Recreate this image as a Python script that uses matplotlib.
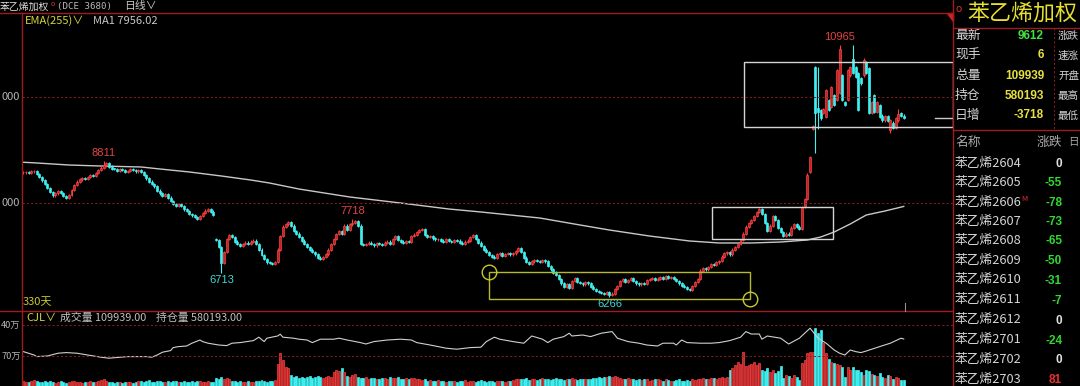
import matplotlib
matplotlib.use('Agg')
import matplotlib.pyplot as plt
from matplotlib.patches import Rectangle, Polygon
import numpy as np

W, H = 1080, 386
plt.rcParams['font.family'] = ['Noto Sans CJK SC', 'DejaVu Sans']

# ---------------- data ----------------
closes = [
    8590, 8600, 8585, 8610, 8620,
    8560, 8500, 8440, 8380, 8300, 8220, 8160,
    8200, 8240, 8210, 8150, 8120,
    8170, 8260, 8350, 8420, 8460,
    8480, 8470, 8500, 8540, 8530, 8580, 8640,
    8680, 8720, 8760, 8700, 8660,
    8650, 8620, 8660, 8640, 8600, 8620, 8650, 8630, 8610, 8640,
    8600, 8540, 8480, 8420, 8380, 8330, 8250, 8200,
    8150, 8180, 8120, 8060, 8000, 7960,
    8000, 7960, 7900, 7870, 7820, 7790, 7760,
    7730, 7780, 7830, 7880, 7910, 7860, 7800,
    7330, 7200, 6900, 7100, 7350, 7420,
    7380, 7300, 7250, 7220, 7260,
    7280, 7250, 7300, 7320,
    7250, 7150, 7050, 6980, 6910,
    6900, 6880, 6920,
    7150, 7400, 7580,
    7620, 7660, 7600, 7500,
    7450, 7380, 7320, 7260, 7200, 7150, 7100, 7060,
    7000, 6970, 7010,
    7060, 7150, 7250, 7350, 7440, 7500,
    7450, 7600, 7520, 7620, 7650, 7680,
    7600, 7250, 7240,
    7260, 7280, 7250, 7230, 7270, 7260, 7240, 7280, 7300, 7260,
    7350, 7400, 7330, 7300,
    7280, 7310, 7300,
    7400, 7430, 7480, 7520,
    7540, 7420, 7380, 7400, 7360, 7340, 7350,
    7320, 7300, 7340, 7310, 7290, 7330, 7320, 7280,
    7260, 7300, 7320, 7380, 7420,
    7350, 7280, 7220, 7150, 7100, 7050, 7020, 6990,
    7060, 7080, 7040, 7070, 7090, 7060, 7080, 7120, 7180,
    7100, 7000, 6920, 6880,
    6930, 6950, 6940, 6920, 6950, 6930,
    6850, 6780, 6720, 6680,
    6600, 6520, 6450, 6500, 6440,
    6560, 6620,
    6550, 6530, 6500, 6540, 6520,
    6460, 6420, 6380, 6360,
    6340, 6320, 6350, 6300, 6330,
    6420, 6470,
    6560, 6600, 6540, 6580, 6620, 6560,
    6520, 6500, 6530, 6510,
    6580, 6600, 6620, 6590, 6610, 6630, 6600,
    6650, 6620, 6640, 6600,
    6560, 6520, 6480, 6450, 6420, 6400,
    6470, 6540, 6600,
    6760, 6800, 6780, 6820,
    6880, 6860, 6910, 6940,
    7020, 7080, 7100, 7060,
    7150, 7200, 7260,
    7330, 7450, 7580, 7650,
    7700, 7780, 7850, 7900,
    7820, 7650, 7500, 7600,
    7780, 7700, 7550,
    7480, 7400, 7450, 7420,
    7560, 7620, 7580, 7540,
    7950, 8100, 8550,
    8880, 9450, 9699, 9720, 9600, 9780, 10129, 9760, 10185, 9850,
    10500, 10900, 9950, 9850, 10500, 10550, 10450, 10380, 9750, 10250,
    10688, 10450, 9700, 9900, 9720, 9900, 9620, 9560, 9640, 9550,
    9560, 9420, 9600, 9680, 9640, 9612,
]

# opens differing from the previous close (gaps / volatile days)
open_override = {
    72: 7340, 294: 8600, 295: 9400, 296: 10558, 297: 9800, 298: 9750,
    299: 9700, 300: 9630, 301: 9940, 302: 9820, 303: 10035, 304: 9950,
    305: 10073, 306: 10400, 307: 9900, 308: 9950, 309: 10400, 310: 10700,
    311: 10560, 312: 10450, 313: 10350, 314: 10400, 315: 10650, 316: 10540,
    317: 9700, 318: 10035, 319: 9720, 320: 9850, 321: 9650, 322: 9560,
    323: 9640, 324: 9380, 325: 9520, 326: 9420, 327: 9560, 328: 9700,
    329: 9650,
}
high_override = {30: 8811, 123: 7718, 305: 10965, 310: 10960, 297: 10558,
                 314: 10720, 327: 9780}
low_override = {74: 6713, 219: 6266, 296: 8953, 297: 9400, 324: 9330, 325: 9400}

volumes = [  # 万手
    9, 7, 8, 10, 11, 9, 8, 7, 9, 8,
    10, 7, 6, 8, 9, 7, 6, 8, 9, 10,
    8, 7, 6, 7, 8, 9, 7, 8, 10, 11,
    12, 9, 8, 7, 6, 7, 8, 6, 7, 8,
    7, 6, 8, 9, 10, 8, 9, 11, 8, 7,
    9, 10, 8, 7, 9, 8, 10, 9, 7, 8,
    9, 8, 7, 9, 8, 10, 9, 8, 7, 9, 8, 7,
    14, 12, 16, 13, 15, 12, 10,
    9, 8, 10, 8, 7, 9, 8, 7, 9, 10, 11, 9, 8, 10, 9, 11,
    40, 60, 48, 35, 32, 20,
    16, 18, 15, 17, 14, 16, 18, 15, 17, 19, 16, 15, 17, 18, 16,
    25, 30, 28, 33, 26,
    18, 16, 20, 22, 17, 15, 14, 16, 13, 15, 14, 12, 13, 15, 14, 13, 16,
    15, 14, 16, 13, 12, 14, 13, 15, 14, 12, 13, 11, 12, 10, 11, 9, 10, 11, 9, 10, 8, 9, 10,
    9, 8, 10, 9, 11, 8, 10, 9, 8, 10, 11, 9, 8, 9, 10, 8, 9, 10, 9, 8, 9, 10, 11, 12, 13,
    13, 12, 14, 11, 12, 13, 11, 12, 14, 13, 12, 11, 13, 14, 12, 13, 11, 12, 13, 14, 12, 11, 13, 12, 13,
    12, 13, 14, 15, 16, 15, 17, 16, 18, 17, 19, 16, 14, 13, 12, 14, 13, 12, 11,
    12, 11, 13, 12, 10, 11, 12, 13, 11, 10, 12, 11, 10, 9, 11, 12, 10, 9, 11, 10,
    12, 11, 13, 12, 14, 13, 12, 14, 15, 13, 14, 16, 15, 17,
    29, 33, 38, 44, 40, 62, 36, 38, 40, 44, 38, 42,
    30, 28, 33, 26, 30, 24, 28, 36, 15, 20, 18, 14, 20, 16, 11,
    42, 47, 60, 62, 62, 106, 97, 102, 78, 60,
    50, 44, 42, 40, 38, 35, 17, 35, 30, 34,
    30, 30, 25, 20, 30, 28, 22, 20, 18, 24,
    16, 14, 20, 18, 12, 16, 14, 11, 11,
]

oi_idx = [0, 4, 5, 9, 13, 16, 20, 24, 29, 32, 39, 46, 48, 50, 52, 55, 56, 58, 61, 63,
          66, 67, 69, 73, 76, 78, 81, 86, 88, 90, 91, 95, 96, 97, 101, 103, 106, 108, 111, 116,
          118, 121, 126, 128, 131, 136, 141, 145, 147, 152, 158, 162, 167, 171, 173, 176, 178, 183, 187, 190,
          194, 196, 198, 202, 204, 205, 209, 212, 216, 220, 222, 226, 230, 233, 237, 239, 243, 244, 246, 248,
          253, 257, 260, 264, 268, 270, 272, 275, 276, 278, 283, 286, 290, 294, 297, 300, 303, 305, 307, 309,
          311, 313, 315, 320, 324, 328, 329]
oi_val = [51.7, 50.0, 49.2, 49.5, 50.9, 51.2, 50.9, 50.0, 48.9, 48.4, 49.2, 49.2, 48.9, 50.0, 51.4, 52.2, 53.7, 54.2, 54.5, 55.9,
          57.5, 56.7, 55.9, 55.0, 54.7, 55.9, 56.2, 57.2, 58.9, 56.7, 58.4, 59.5, 60.4, 58.9, 58.4, 57.9, 57.5, 56.2, 57.9, 57.9,
          58.4, 57.5, 56.2, 55.5, 56.7, 57.5, 57.9, 57.5, 56.2, 55.0, 53.4, 52.9, 53.7, 53.9, 56.7, 58.9, 57.9, 56.7, 55.9, 59.5,
          57.9, 56.2, 57.9, 59.2, 60.9, 59.5, 60.0, 59.2, 60.9, 61.7, 58.4, 56.7, 55.9, 55.0, 54.5, 55.9, 55.9, 55.0, 57.5, 56.2,
          55.9, 55.9, 56.2, 57.2, 58.9, 61.7, 60.5, 60.5, 57.9, 59.5, 58.4, 55.5, 58.4, 63.4, 58.4, 55.9, 52.5, 50.9, 50.0, 52.5,
          51.7, 51.2, 52.0, 54.2, 55.9, 58.4, 58.0]

ema_idx = [0, 4, 17, 29, 44, 51, 62, 74, 85, 92, 103, 122, 141, 159, 171, 193, 208, 219, 234,
           249, 260, 272, 283, 293, 298, 303, 309, 315, 322, 329]
ema_val = [8780, 8770, 8729, 8710, 8692, 8655, 8599, 8524, 8449, 8393, 8281, 8132, 8020, 7908, 7852,
           7740, 7610, 7516, 7404, 7311, 7274, 7274, 7292, 7330, 7386, 7479, 7628, 7796, 7871, 7956]

peak_labels = [(30, 'high', '8811'), (123, 'high', '7718'), (305, 'high', '10965'),
               (74, 'low', '6713'), (219, 'low', '6266')]

info_labels = ['最新', '现手', '总量', '持仓', '日增']
info_values = ['9612', '6', '109939', '580193', '-3718']
info_labels2 = ['涨跌', '速涨', '开盘', '最高', '最低']
contracts = ['苯乙烯2604', '苯乙烯2605', '苯乙烯2606', '苯乙烯2607', '苯乙烯2608', '苯乙烯2609',
             '苯乙烯2610', '苯乙烯2611', '苯乙烯2612', '苯乙烯2701', '苯乙烯2702', '苯乙烯2703']
changes = [0, -55, -78, -73, -65, -50, -31, -7, 0, -24, 0, 81]

# ---------------- derived OHLC ----------------
n = min(len(closes), len(volumes))
closes = np.array(closes[:n], dtype=float)
opens = np.concatenate([[closes[0]], closes[:-1]])
for k, v in open_override.items():
    if k < n:
        opens[k] = v
WICK = 22
highs = np.maximum(opens, closes) + WICK
lows = np.minimum(opens, closes) - WICK
for k, v in high_override.items():
    highs[k] = v
for k, v in low_override.items():
    lows[k] = v
vol = np.array(volumes[:n], dtype=float)
idx = np.arange(n)
up = closes >= opens

RED_E, RED_F = '#ff4040', '#b82828'
CYAN = '#3ff0f0'
GRID = '#8a1c1c'
BORDER = '#a01c1c'
YEL = '#d6d63c'

# ---------------- layout ----------------
fig = plt.figure(figsize=(W / 100, H / 100), dpi=100, facecolor='black')

def px_axes(x0, y0, x1, y1):
    a = fig.add_axes([x0 / W, 1 - y1 / H, (x1 - x0) / W, (y1 - y0) / H])
    a.set_facecolor('none')
    a.set_axis_off()
    return a

PX = 2.676  # pixels per bar
XL, XR = -0.5, (953 - 22) / PX - 0.5
def price_at(y):  # pixel row -> price, for axis limits
    return 6266 + (297 - y) * 18.66

ax = px_axes(22, 13, 953, 311)
ax.set_xlim(XL, XR)
ax.set_ylim(price_at(311), price_at(13))

ax.plot(ema_idx, ema_val, color='#c8c8c8', lw=1.0, zorder=2)

wick_cols = [RED_E if u else CYAN for u in up]
ax.vlines(idx, lows, highs, colors=wick_cols, lw=0.8, zorder=3)
body_bot = np.minimum(opens, closes)
body_h = np.maximum(np.abs(closes - opens), 14)
ax.bar(idx, body_h, bottom=body_bot, width=0.74,
       color=[RED_F if u else CYAN for u in up],
       edgecolor=[RED_E if u else CYAN for u in up], lw=0.5, zorder=4)

# boxes
def box(a, i0, i1, p0, p1, col):
    a.add_patch(Rectangle((i0, p0), i1 - i0, p1 - p0, fill=False, ec=col, lw=1.0, zorder=5))

box(ax, 257.3, 302.6, 7348, 7945, '#d4d4d4')
box(ax, 269.3, XR, 9444, 10657, '#d4d4d4')
box(ax, 174.0, 271.5, 6223, 6738, '#b8b830')
ax.plot([174.0, 271.5], [6738, 6223], 'o', mfc='none', mec='#c8c830', ms=10.5, mew=1.0, zorder=6)

# last price marker
ax.plot([340.7, XR], [closes[-1], closes[-1]], color='#c8c8c8', lw=1.0, zorder=5)

for i, kind, txt in peak_labels:
    if kind == 'high':
        ax.annotate(txt, (i, highs[i]), xytext=(0, 2), textcoords='offset points',
                    ha='center', va='bottom', color='#e04444', fontsize=8,
                    family=['Liberation Sans', 'DejaVu Sans'])
    else:
        ax.annotate(txt, (i, lows[i]), xytext=(0, -1.5), textcoords='offset points',
                    ha='center', va='top', color='#40d8d8', fontsize=8,
                    family=['Liberation Sans', 'DejaVu Sans'])

# volume + open interest panel
axv = px_axes(22, 311, 953, 386)
axv.set_xlim(XL, XR)
axv.set_ylim(0, 137)
axv.bar(idx, vol, width=0.74, color=[RED_F if u else CYAN for u in up],
        edgecolor=[RED_E if u else CYAN for u in up], lw=0.5)
axo = px_axes(22, 311, 953, 386)
axo.set_xlim(XL, XR)
axo.set_ylim(34.5, 72)
axo.plot(oi_idx, oi_val, color='#d0d0d0', lw=0.8)

# ---------------- overlay (pixel coordinates) ----------------
ov = fig.add_axes([0, 0, 1, 1])
ov.set_xlim(0, W)
ov.set_ylim(H, 0)
ov.set_axis_off()
ov.patch.set_alpha(0)

for y in (97, 203, 325, 356):
    ov.plot([22, 953], [y, y], color=GRID, lw=0.7, ls=(0, (2.2, 2.2)))
ov.plot([0, 953], [13, 13], color=BORDER, lw=1.0)
ov.plot([0, 953], [311, 311], color=BORDER, lw=1.0)
ov.plot([22, 22], [13, 386], color=BORDER, lw=1.0)
ov.plot([953, 953], [0, 386], color=BORDER, lw=1.0)
ov.plot([953, 1080], [28, 28], color=BORDER, lw=1.0)
ov.plot([953, 1080], [130, 130], color=BORDER, lw=1.0)
ov.plot([1054, 1054], [28, 130], color=GRID, lw=0.7, ls=(0, (2.2, 2.2)))
ov.add_patch(Polygon([(947, 13), (953, 13), (953, 21)], closed=True, color='#d02020'))
ov.plot([905, 905], [303, 311], color='#909090', lw=0.8)

# left labels
for y, t in [(97, '000'), (203, '000')]:
    ov.text(20, y, t, color='#b4b4b4', fontsize=8, ha='right', va='center')
for y, t in [(325, '40万'), (356, '70万')]:
    ov.text(20.5, y, t, color='#b4b4b4', fontsize=6.6, ha='right', va='center')

# title row
ov.text(0, 6.5, '苯乙烯加权', color='#e0e0e0', fontsize=7.1, ha='left', va='center')
ov.text(50.5, 4.5, 'o', color='#e03030', fontsize=5, ha='left', va='center')
ov.text(57, 6.5, '(DCE 3680)', color='#b8b8b8', fontsize=6.6, ha='left', va='center',
        family=['DejaVu Sans Mono'])
ov.text(124, 6.5, '日线∨', color='#c8c8c8', fontsize=7.8, ha='left', va='center')

ov.text(25, 21, 'EMA(255)∨', color=YEL, fontsize=8, ha='left', va='center')
ov.text(93, 21, 'MA1 7956.02', color='#c8c8c8', fontsize=8, ha='left', va='center')
ov.text(23, 302, '330天', color='#c8c832', fontsize=8, ha='left', va='center')
ov.text(26, 318, 'CJL∨', color=YEL, fontsize=8, ha='left', va='center')
ov.text(60, 318, '成交量 109939.00', color='#c0c0c0', fontsize=7.8, ha='left', va='center')
ov.text(156, 318, '持仓量 580193.00', color='#c0c0c0', fontsize=7.8, ha='left', va='center')

# right panel
ov.text(956, 8.5, 'o', color='#e03030', fontsize=7.5, ha='left', va='center')
ov.text(967, 14, '苯乙烯加权', color='#e6e032', fontsize=15.8, ha='left', va='center')
info_y = [36, 55.5, 76, 96, 115.5]
info_cols = ['#40e040', '#e6e040', '#e6e040', '#e6e040', '#e6e040']
for y, lab, val, c, lab2 in zip(info_y, info_labels, info_values, info_cols, info_labels2):
    ov.text(955, y, lab, color='#d4d4d4', fontsize=9.2, ha='left', va='center')
    ov.text(1044, y, val, color=c, fontsize=8.5, fontweight='bold', ha='right', va='center',
            family=['Liberation Sans', 'DejaVu Sans'])
    ov.text(1058, y, lab2, color='#d4d4d4', fontsize=7.6, ha='left', va='center')

ov.text(955, 142.5, '名称', color='#a8a8a8', fontsize=9.2, ha='left', va='center')
ov.text(1037, 142.5, '涨跌', color='#a8a8a8', fontsize=9.2, ha='left', va='center')
ov.text(1068, 142.5, '日', color='#a8a8a8', fontsize=7.6, ha='left', va='center')

row_y = [163.3, 182.5, 202.3, 221.5, 240.8, 260.3, 280, 300, 320, 340, 359.5, 379.3]
for y, name, chg in zip(row_y, contracts, changes):
    ov.text(955, y, name, color='#d4d4d4', fontsize=9.2, ha='left', va='center')
    col = '#e0e0e0' if chg == 0 else ('#30d830' if chg < 0 else '#e83030')
    ov.text(1062, y + 0.5, str(chg), color=col, fontsize=8.5, fontweight='bold', ha='right',
            va='center', family=['Liberation Sans', 'DejaVu Sans'])
ov.text(1021, 199, 'M', color='#e03030', fontsize=5.5, ha='left', va='center')

fig.savefig('out.png', dpi=100, facecolor='black')
